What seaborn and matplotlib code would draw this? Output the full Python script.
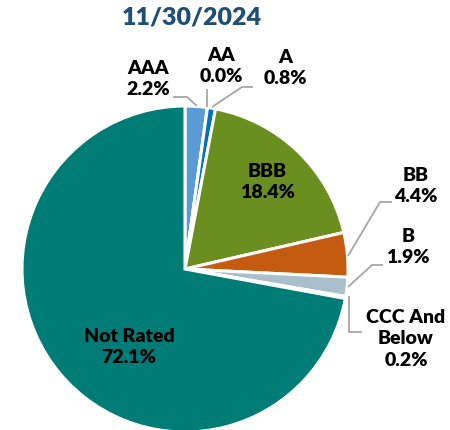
import numpy as np
import matplotlib
matplotlib.use("Agg")
import matplotlib.pyplot as plt
import seaborn as sns

# data
categories = ["AAA", "AA", "A", "BBB", "BB", "B", "CCC And\nBelow", "Not Rated"]
shares = [2.2, 0.0, 0.8, 18.4, 4.4, 1.9, 0.2, 72.1]
colors = ["#5B9BD5", "#1F4E79", "#0070C0", "#6A8E1F", "#C55A11", "#A9BFCC", "#7F7F7F", "#007C77"]
title = "11/30/2024"

sns.set_style("white")
plt.rcParams['font.family'] = ['Lato', 'DejaVu Sans']

fig = plt.figure(figsize=(4.5, 4.31), dpi=100)
ax = fig.add_axes([0, 0, 1, 1])

# pie in pixel space (y up)
cx, cy, r = 185, 431 - 270, 163
wedges, _ = ax.pie(shares, colors=colors, startangle=90, counterclock=False,
                   center=(cx, cy), radius=r,
                   wedgeprops=dict(edgecolor="white", linewidth=2.2))
ax.set_xlim(0, 450)
ax.set_ylim(0, 431)
ax.set_aspect("equal")
ax.axis("off")

def lbl(i):
    return f"{categories[i]}\n{shares[i]:.1f}%"

txt = dict(fontsize=14, fontweight="heavy", ha="center", va="center",
           color="black", linespacing=1.3)
line = dict(color="#A6A6A6", lw=1.3, solid_capstyle="butt")

def Y(y):
    return 431 - y

# labels outside with leader lines
ax.text(148, Y(79), lbl(0), **txt)
ax.plot([173, 187, 197], [Y(98), Y(98), Y(107)], **line)

ax.text(221, Y(66), lbl(1), **txt)
ax.plot([207, 207], [Y(90), Y(108)], **line)

ax.text(285, Y(68), lbl(2), **txt)
ax.plot([253, 242, 212], [Y(88), Y(88), Y(108)], **line)

ax.text(267, Y(182), lbl(3), **txt)

ax.text(416, Y(186), lbl(4), **txt)
ax.plot([392, 380, 348], [Y(203), Y(203), Y(257)], **line)

ax.text(408, Y(247), lbl(5), **txt)
ax.plot([383, 372, 348], [Y(266), Y(266), Y(288)], **line)

ax.text(406, Y(339), lbl(6), **txt)
ax.plot([349, 349, 362], [Y(297), Y(333), Y(333)], **line)

ax.text(129, Y(347), lbl(7), **txt)

ax.text(192, Y(17), title, fontsize=18, fontweight="heavy", color="#1F4E79",
        ha="center", va="center")

plt.savefig("out.png", dpi=100)
